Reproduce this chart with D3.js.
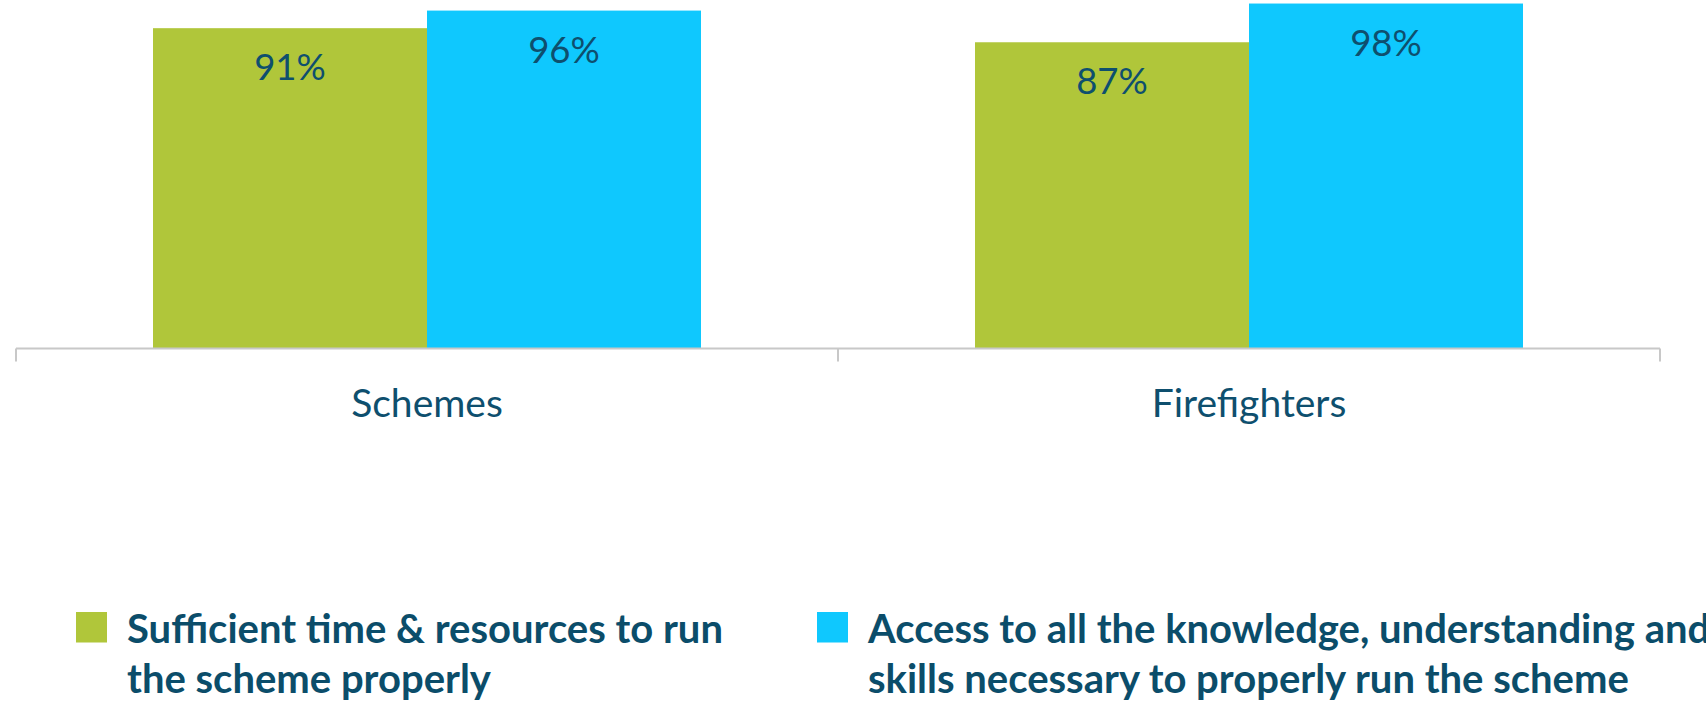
<!DOCTYPE html>
<html>
<head>
<meta charset="utf-8">
<script src="https://cdn.jsdelivr.net/npm/d3@7"></script>
<style>
  body { margin: 0; background: #fff; }
  svg { display: block; }
</style>
</head>
<body>
<div id="chart"></div>
<script>
// data
const categories = ["Schemes", "Firefighters"];
const seriesNames = ["time", "knowledge"];
const seriesLines = [
  ["Sufficient time & resources to run", "the scheme properly"],
  ["Access to all the knowledge, understanding and", "skills necessary to properly run the scheme"]
];
const timeResources = [91, 87];   // % per category
const knowledgeSkills = [96, 98];
const colors = ["#b0c63a", "#0fc8fe"];

const W = 1706, H = 705;
const values = [timeResources, knowledgeSkills];

const svg = d3.select("#chart")
  .append("svg")
  .attr("width", W)
  .attr("height", H);

const x0 = d3.scaleBand()
  .domain(categories)
  .range([16, 1660])
  .paddingInner(1 / 3)
  .paddingOuter(1 / 6);

const x1 = d3.scaleBand()
  .domain(seriesNames)
  .range([0, x0.bandwidth()]);

const y = d3.scaleLinear()
  .domain([0, 100])
  .range([348.5, -3.5]);

// bars
seriesNames.forEach((s, si) => {
  const g = svg.append("g");
  g.selectAll("rect")
    .data(categories)
    .join("rect")
    .attr("x", c => x0(c) + x1(s))
    .attr("y", (c, i) => y(values[si][i]))
    .attr("width", x1.bandwidth())
    .attr("height", (c, i) => y(0) - y(values[si][i]))
    .attr("fill", colors[si]);

  g.selectAll("text")
    .data(categories)
    .join("text")
    .attr("x", c => x0(c) + x1(s) + x1.bandwidth() / 2)
    .attr("y", (c, i) => y(values[si][i]) + 52)
    .attr("text-anchor", "middle")
    .attr("font-family", "Lato, 'Open Sans', sans-serif")
    .attr("font-size", 36.5)
    .attr("fill", "#0e4f6e")
    .text((c, i) => values[si][i] + "%");
});

// category axis
const [r0, r1] = x0.range();
const step = x0.step();
const axis = svg.append("g").attr("stroke", "#c8c8c8").attr("stroke-width", 2);
axis.append("line")
  .attr("x1", r0).attr("x2", r1)
  .attr("y1", y(0)).attr("y2", y(0));
d3.range(categories.length + 1).forEach(i => {
  axis.append("line")
    .attr("x1", r0 + i * step).attr("x2", r0 + i * step)
    .attr("y1", y(0)).attr("y2", y(0) + 13);
});

svg.append("g")
  .selectAll("text")
  .data(categories)
  .join("text")
  .attr("x", c => x0(c) + x0.bandwidth() / 2)
  .attr("y", 417)
  .attr("text-anchor", "middle")
  .attr("font-family", "Lato, 'Open Sans', sans-serif")
  .attr("font-size", 39)
  .attr("fill", "#0e4f6e")
  .text(c => c);

// legend
const legendX = [76, 817];
seriesNames.forEach((s, si) => {
  const g = svg.append("g").attr("transform", `translate(${legendX[si]},612)`);
  g.append("rect")
    .attr("width", 31)
    .attr("height", 30.5)
    .attr("fill", colors[si]);
  const t = g.append("text")
    .attr("x", 51)
    .attr("font-family", "Lato, 'Open Sans', sans-serif")
    .attr("font-weight", "bold")
    .attr("font-size", 40)
    .attr("fill", "#0b4d6a");
  seriesLines[si].forEach((line, li) => {
    t.append("tspan")
      .attr("x", 51)
      .attr("y", 31 + li * 49.5)
      .text(line);
  });
});
</script>
</body>
</html>
